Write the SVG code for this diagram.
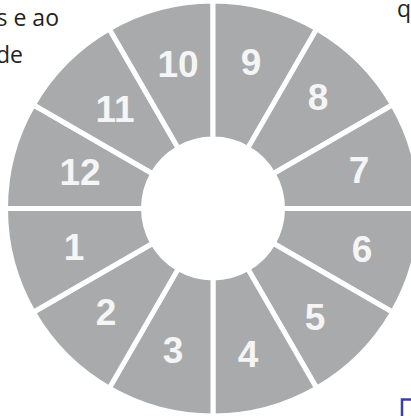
<svg xmlns="http://www.w3.org/2000/svg" width="411" height="416" viewBox="0 0 411 416">
<style>
.seg{fill:#a9aaac;stroke:#fff;stroke-width:5;stroke-linejoin:miter}
.num{font-family:"Liberation Sans",Arial,sans-serif;font-weight:bold;font-size:37px;fill:#f5f5f5;text-anchor:middle}
.txt{font-family:"Open Sans","Noto Sans",sans-serif;font-size:23px;fill:#231f20}
</style>
<rect width="411" height="416" fill="#fff"/>
<text class="txt" x="59" y="26" text-anchor="end">s e ao</text>
<text class="txt" x="23" y="63" text-anchor="end">de</text>
<text class="txt" x="397" y="17">q</text>
<rect x="402" y="399.5" width="30" height="30" fill="none" stroke="#3a40a0" stroke-width="2.5"/>
<g id="s6"><path class="seg" d="M420.5,208.5 A207.5,207.5 0 0 1 392.70,312.25 L273.19,243.25 A69.5,69.5 0 0 0 282.5,208.5 Z"/><text class="num" x="362" y="262">6</text></g>
<g id="s5"><path class="seg" d="M392.70,312.25 A207.5,207.5 0 0 1 316.75,388.20 L247.75,268.69 A69.5,69.5 0 0 0 273.19,243.25 Z"/><text class="num" x="315" y="330">5</text></g>
<g id="s4"><path class="seg" d="M316.75,388.20 A207.5,207.5 0 0 1 213,416 L213,278 A69.5,69.5 0 0 0 247.75,268.69 Z"/><text class="num" x="248" y="367">4</text></g>
<g id="s3"><path class="seg" d="M213,416 A207.5,207.5 0 0 1 109.25,388.20 L178.25,268.69 A69.5,69.5 0 0 0 213,278 Z"/><text class="num" x="173" y="363">3</text></g>
<g id="s2"><path class="seg" d="M109.25,388.20 A207.5,207.5 0 0 1 33.30,312.25 L152.81,243.25 A69.5,69.5 0 0 0 178.25,268.69 Z"/><text class="num" x="106" y="325">2</text></g>
<g id="s1"><path class="seg" d="M33.30,312.25 A207.5,207.5 0 0 1 5.5,208.5 L143.5,208.5 A69.5,69.5 0 0 0 152.81,243.25 Z"/><text class="num" x="74" y="260">1</text></g>
<g id="s12"><path class="seg" d="M5.5,208.5 A207.5,207.5 0 0 1 33.30,104.75 L152.81,173.75 A69.5,69.5 0 0 0 143.5,208.5 Z"/><text class="num" x="80" y="185">12</text></g>
<g id="s11"><path class="seg" d="M33.30,104.75 A207.5,207.5 0 0 1 109.25,28.80 L178.25,148.31 A69.5,69.5 0 0 0 152.81,173.75 Z"/><text class="num" x="115" y="122">11</text></g>
<g id="s10"><path class="seg" d="M109.25,28.80 A207.5,207.5 0 0 1 213,1 L213,139 A69.5,69.5 0 0 0 178.25,148.31 Z"/><text class="num" x="178" y="77">10</text></g>
<g id="s9"><path class="seg" d="M213,1 A207.5,207.5 0 0 1 316.75,28.80 L247.75,148.31 A69.5,69.5 0 0 0 213,139 Z"/><text class="num" x="251" y="75">9</text></g>
<g id="s8"><path class="seg" d="M316.75,28.80 A207.5,207.5 0 0 1 392.70,104.75 L273.19,173.75 A69.5,69.5 0 0 0 247.75,148.31 Z"/><text class="num" x="318" y="110">8</text></g>
<g id="s7"><path class="seg" d="M392.70,104.75 A207.5,207.5 0 0 1 420.5,208.5 L282.5,208.5 A69.5,69.5 0 0 0 273.19,173.75 Z"/><text class="num" x="359" y="183">7</text></g>
<g id="connectors"></g>
</svg>
